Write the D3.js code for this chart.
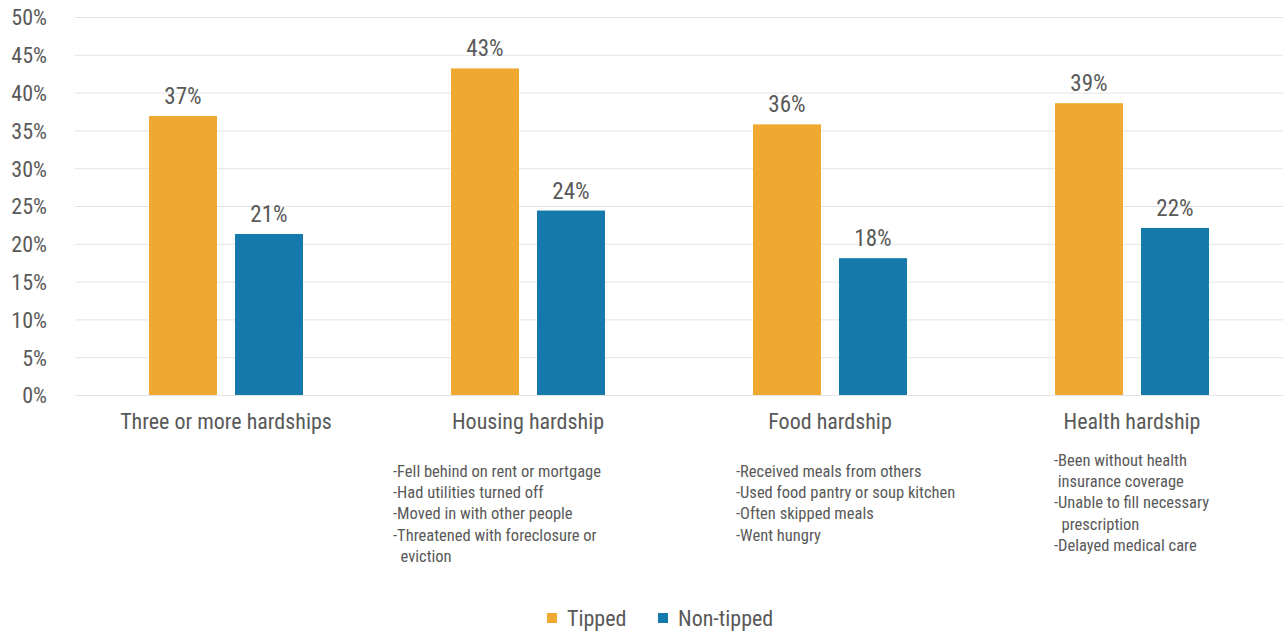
<!DOCTYPE html>
<html>
<head>
<meta charset="utf-8">
<script src="https://cdn.jsdelivr.net/npm/d3@7"></script>
<style>
  html, body { margin: 0; padding: 0; background: #fff; }
  svg { display: block; font-family: "Roboto Condensed", "DejaVu Sans Condensed", sans-serif; }
</style>
</head>
<body>
<svg id="chart" width="1283" height="633"></svg>
<script>
// Share of workers reporting each hardship
const categories = ["Three or more hardships", "Housing hardship", "Food hardship", "Health hardship"];
const seriesNames = ["Tipped", "Non-tipped"];
const tippedValues = [0.369, 0.432, 0.358, 0.386];
const nonTippedValues = [0.213, 0.244, 0.181, 0.221];
const yTicks = [0, 0.05, 0.10, 0.15, 0.20, 0.25, 0.30, 0.35, 0.40, 0.45, 0.50];
const seriesColors = ["#EFA830", "#157AAB"];

// Item lists printed under three of the categories
const housingItems = ["-Fell behind on rent or mortgage", "-Had utilities turned off", "-Moved in with other people", "-Threatened with foreclosure or", "  eviction"];
const foodItems = ["-Received meals from others", "-Used food pantry or soup kitchen", "-Often skipped meals", "-Went hungry"];
const healthItems = ["-Been without health", " insurance coverage", "-Unable to fill necessary", "  prescription", "-Delayed medical care"];

const svg = d3.select("#chart");
const textColor = "#595959";

const plot = { left: 75, right: 1283, top: 17, bottom: 395 };

const x0 = d3.scaleBand().domain(categories).range([plot.left, plot.right]).padding(0);
const x1 = d3.scaleBand().domain(seriesNames).range([0, x0.bandwidth()])
  .paddingInner(0.2093).paddingOuter(0.8605);
const y = d3.scaleLinear().domain([0, 0.5]).range([plot.bottom, plot.top]);
const color = d3.scaleOrdinal().domain(seriesNames).range(seriesColors);
const pct = d3.format(".0%");

// Gridlines and y axis labels
const yAxis = d3.axisLeft(y).tickValues(yTicks).tickFormat(pct)
  .tickSize(-(plot.right - plot.left)).tickPadding(28);
const gy = svg.append("g").attr("transform", `translate(${plot.left},0)`).call(yAxis)
  .attr("font-family", null).attr("font-size", null);
gy.select(".domain").remove();
gy.selectAll(".tick line").attr("stroke", "#e4e4e4").attr("stroke-width", 1);
gy.selectAll(".tick text").attr("fill", textColor).attr("font-size", 22).attr("dy", "0.36em");

// Bars
const rows = categories.map((c, i) => ({
  category: c,
  values: [
    { series: seriesNames[0], value: tippedValues[i] },
    { series: seriesNames[1], value: nonTippedValues[i] }
  ]
}));

const groups = svg.append("g").selectAll("g").data(rows).join("g")
  .attr("transform", d => `translate(${x0(d.category)},0)`);

groups.selectAll("rect").data(d => d.values).join("rect")
  .attr("x", d => x1(d.series))
  .attr("y", d => y(d.value))
  .attr("width", x1.bandwidth())
  .attr("height", d => y(0) - y(d.value))
  .attr("fill", d => color(d.series));

groups.selectAll("text.value").data(d => d.values).join("text")
  .attr("class", "value")
  .attr("x", d => x1(d.series) + x1.bandwidth() / 2)
  .attr("y", d => y(d.value) - 12)
  .attr("text-anchor", "middle")
  .attr("fill", textColor)
  .attr("font-size", 23)
  .text(d => pct(d.value));

// Category labels
const xAxis = d3.axisBottom(x0).tickSize(0).tickPadding(18);
const gx = svg.append("g").attr("transform", `translate(0,${plot.bottom})`).call(xAxis)
  .attr("font-family", null).attr("font-size", null);
gx.select(".domain").remove();
gx.selectAll(".tick text").attr("fill", textColor).attr("font-size", 22);

// Item lists
function itemList(lines, left, firstBaseline) {
  const t = svg.append("text")
    .attr("fill", textColor)
    .attr("font-size", 16.5)
    .style("white-space", "pre");
  t.selectAll("tspan").data(lines).join("tspan")
    .attr("x", left)
    .attr("y", (d, i) => firstBaseline + i * 21.2)
    .text(d => d);
}
itemList(housingItems, x0("Housing hardship") + 16, 477);
itemList(foodItems, x0("Food hardship") + 57, 477);
itemList(healthItems, x0("Health hardship") + 73, 466);

// Legend
const legend = svg.append("g").attr("transform", "translate(547,613)");
const legendOffsets = [0, 111];
seriesNames.forEach((s, i) => {
  const g = legend.append("g").attr("transform", `translate(${legendOffsets[i]},0)`);
  g.append("rect").attr("width", 10).attr("height", 10).attr("fill", color(s));
  g.append("text").attr("x", 20).attr("y", 13).attr("fill", textColor)
    .attr("font-size", 22).text(s);
});
</script>
</body>
</html>
